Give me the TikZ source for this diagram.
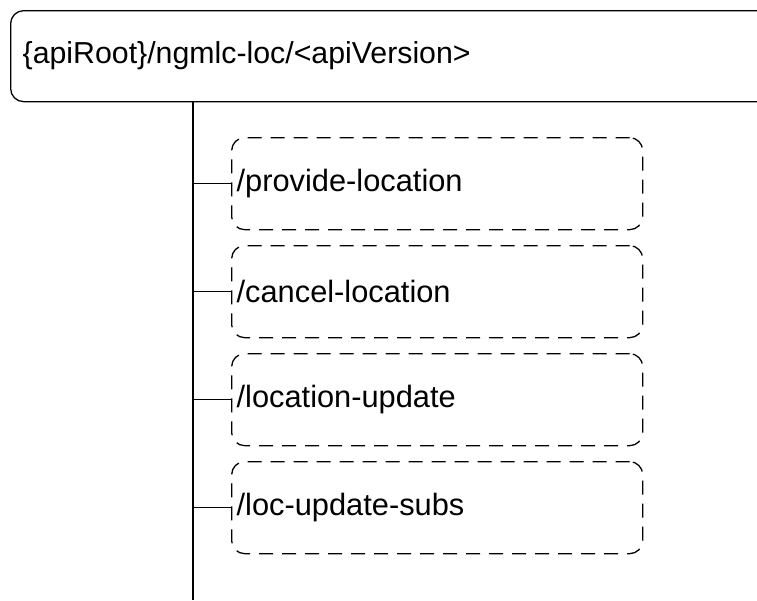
\documentclass[tikz,border=0pt]{standalone}
\usepackage{fontspec}
\setmainfont{Liberation Sans}
\begin{document}
\begin{tikzpicture}[x=1pt,y=-1pt,
  line width=1.3pt,
  rootbox/.style={draw, rounded corners=13pt, anchor=north west, minimum width=780pt, minimum height=91pt, text width=756pt, inner xsep=12pt, inner ysep=0pt, align=left, font=\fontsize{30.3}{35}\selectfont},
  resbox/.style={draw, dash pattern=on 14pt off 9pt, rounded corners=13pt, anchor=north west, minimum width=411pt, minimum height=92pt, text width=401pt, inner xsep=5pt, inner ysep=0pt, align=left, font=\fontsize{30.8}{35}\selectfont}]
\useasboundingbox (0,0) rectangle (757,600);
\clip (0,0) rectangle (757,600);
\node[rootbox] (root) at (10,10) {\{apiRoot\}/ngmlc-loc/<apiVersion>};
\coordinate (ttop) at (193,101);
\coordinate (tbot) at (193,600);
\node[resbox] (r1) at (231,137) {/provide-location};
\node[resbox] (r2) at (231,245) {/cancel-location};
\node[resbox] (r3) at (231,353) {/location-update};
\node[resbox] (r4) at (231,461) {/loc-update-subs};
\draw (ttop) -- (tbot);
\foreach \n in {r1,r2,r3,r4} \draw (ttop |- \n.west) -- (\n.west);
\end{tikzpicture}
\end{document}
